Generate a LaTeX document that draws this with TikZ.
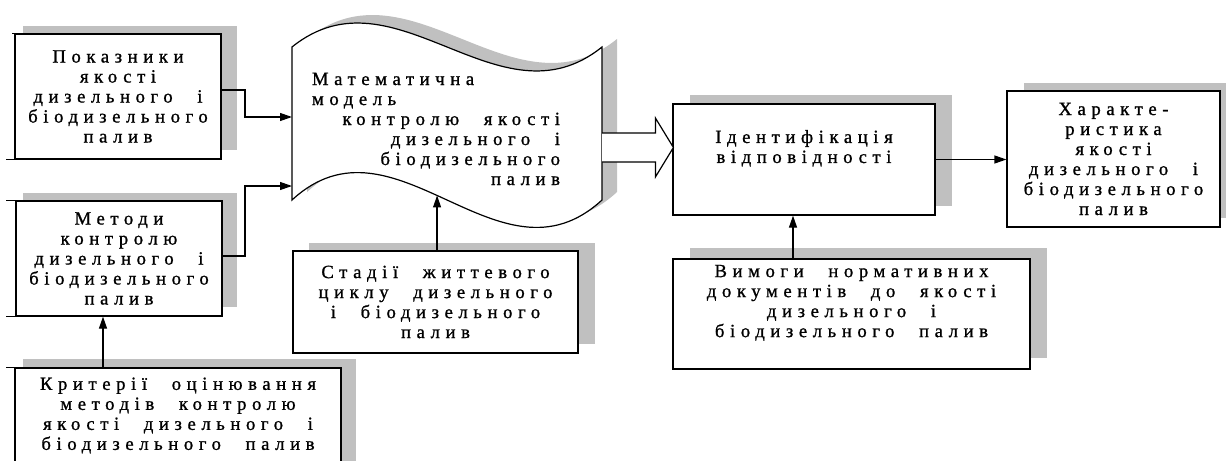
\documentclass[tikz,border=0pt]{standalone}
\usepackage{fontspec}
\newfontfamily\dfont{Liberation Serif}[LetterSpace=30,WordSpace=2.4,FakeBold=1]
\usetikzlibrary{arrows.meta,calc}
\definecolor{shd}{RGB}{192,192,192}
\begin{document}
\begin{tikzpicture}[x=0.75pt,y=-0.75pt,
  txt/.style={font=\dfont\fontsize{14}{15}\selectfont},
  box/.style={txt, draw=black, line width=0.9pt, fill=white, inner sep=0pt, align=center},
  shadowbox/.style={fill=shd, draw=none},
  arr/.style={line width=0.9pt, -{Triangle[length=9pt,width=6pt]}},
  edgeline/.style={line width=0.9pt}]
\clip (0,0) rectangle (1226,460);
\fill[white] (0,0) rectangle (1226,460);
% shadows
\fill[shadowbox] (23,26) rectangle (237,150);
\fill[shadowbox] (23,193) rectangle (237,307);
\fill[shadowbox] (23,359) rectangle (356,470);
\fill[shadowbox] (309,243) rectangle (595,344);
\fill[shadowbox] (690,95) rectangle (952,206);
\fill[shadowbox] (690,248) rectangle (1047,358);
\fill[shadowbox] (1024,83) rectangle (1240,218);
\fill[shadowbox] (307,39) .. controls (410,-44) and (514,122) .. (617,39) -- (617,192) .. controls (514,287) and (410,97) .. (307,192) -- cycle;
% wave shape
\draw[edgeline, fill=white] (292,47) .. controls (395,-36) and (499,130) .. (602,47) -- (602,200) .. controls (499,295) and (395,105) .. (292,200) coordinate[pos=0.532] (wb) -- cycle;
\coordinate (w1) at (292,117);
\coordinate (w2) at (292,186);
\coordinate (wr) at (602,147.5);
\node[txt, align=center, inner sep=0pt] (wt) at (436,129)
  {\makebox[186pt][l]{Математична}\\\makebox[186pt][l]{модель}\\\makebox[186pt][r]{контролю якості}\\\makebox[186pt][r]{дизельного і}\\\makebox[186pt][r]{біодизельного}\\\makebox[186pt][r]{палив}};
% boxes
\node[box, minimum width=154.5pt, minimum height=93.75pt] (b1) at (118,96.5)
  {Показники\\якості\\дизельного і\\біодизельного\\палив};
\node[box, minimum width=154.5pt, minimum height=86.25pt] (b2) at (119,258.5)
  {Методи\\контролю\\дизельного і\\біодизельного\\палив};
\node[box, minimum width=244.5pt, minimum height=71.25pt] (b3) at (178,415.5)
  {Критерії оцінювання\\методів контролю\\якості дизельного і\\біодизельного палив};
\node[box, minimum width=213.75pt, minimum height=76.5pt] (st) at (435.5,302)
  {Стадії життевого\\циклу дизельного\\і біодизельного\\палив};
\node[box, minimum width=196.5pt, minimum height=83.25pt] (id) at (804,159.5)
  {Ідентифікація\\відповідності\\\strut};
\node[box, minimum width=267.75pt, minimum height=82.5pt] (rq) at (851.5,314)
  {Вимоги нормативних\\документів до якості\\дизельного і\\біодизельного палив\\\strut};
\node[box, minimum width=159.75pt, minimum height=102pt] (ch) at (1113.5,159)
  {Характе-\\ристика\\якості\\дизельного і\\біодизельного\\палив};
% small edge stubs at the left boxes
\draw[edgeline] (b1.north west) -- ++(-2,0);
\draw[edgeline] (b1.south west) -- ++(-8,0);
\draw[edgeline] (b2.north west) -- ++(-9,0);
\draw[edgeline] (b2.south west) -- ++(-9,0);
\draw[edgeline] (b3.north west) -- ++(-8,0);
% connectors
\coordinate (cx1) at (245,0);
\coordinate (cx3) at (103,0);
\coordinate (cx5) at (793,0);
\draw[arr] ($(b1.east)+(0,-6.5)$) -| ($(cx1|-w1)$) -- (w1);
\draw[arr] ($(b2.east)+(0,-2.5)$) -| ($(cx1|-w2)$) -- (w2);
\draw[arr] (b3.north -| cx3) -- (b2.south -| cx3);
\draw[arr] (st.north -| wb) -- (wb);
\draw[arr] (rq.north -| cx5) -- (id.south -| cx5);
\draw[arr] (id.east) -- (id.east -| ch.west);
% hollow block arrow
\draw[edgeline, fill=white, line join=miter]
  ($(wr)+(0,-14.5)$) -- ($(id.west|-wr)+(-17,-14.5)$) -- ($(id.west|-wr)+(-17,-29.5)$)
  -- ($(id.west|-wr)+(1,0)$) -- ($(id.west|-wr)+(-17,29.5)$) -- ($(id.west|-wr)+(-17,14.5)$)
  -- ($(wr)+(0,14.5)$);
\end{tikzpicture}
\end{document}
